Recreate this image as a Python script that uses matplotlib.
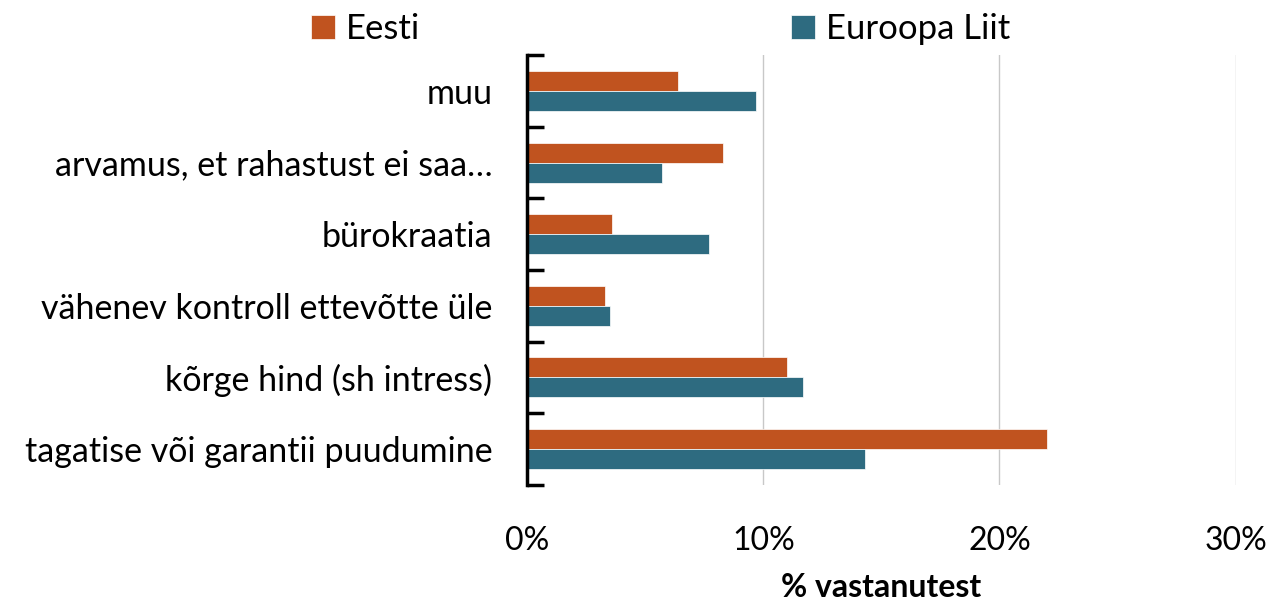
import matplotlib.pyplot as plt
import numpy as np
from matplotlib.ticker import PercentFormatter

categories = [
    "muu",
    "arvamus, et rahastust ei saa…",
    "bürokraatia",
    "vähenev kontroll ettevõtte üle",
    "kõrge hind (sh intress)",
    "tagatise või garantii puudumine",
]
eesti = [6.4, 8.3, 3.6, 3.3, 11.0, 22.0]
euroopa_liit = [9.7, 5.7, 7.7, 3.5, 11.7, 14.3]
series_names = ["Eesti", "Euroopa Liit"]

plt.rcParams["font.family"] = ["Lato", "DejaVu Sans"]

fig = plt.figure(figsize=(12.7, 6), dpi=100)
ax = fig.add_axes([0.415, 0.192, 0.558, 0.716])

y = np.arange(len(categories))
h = 0.28
ax.barh(y - h / 2, eesti, height=h, color="#C0531F", edgecolor="white",
        linewidth=0.5, label=series_names[0], zorder=3)
ax.barh(y + h / 2, euroopa_liit, height=h, color="#2E6B80", edgecolor="white",
        linewidth=0.5, label=series_names[1], zorder=3)

ax.set_ylim(len(categories) - 0.5, -0.5)
ax.set_xlim(0, 30)
ax.set_yticks(y)
ax.set_yticklabels(categories, fontsize=24.5)
ax.set_yticks(np.arange(-0.5, len(categories)), minor=True)
ax.tick_params(axis="y", which="major", length=0, pad=25)
ax.tick_params(axis="y", which="minor", length=12, width=2.5, direction="in")

ax.set_xticks([0, 10, 20, 30])
ax.xaxis.set_major_formatter(PercentFormatter(decimals=0))
ax.tick_params(axis="x", length=0, pad=30, labelsize=23)
ax.grid(axis="x", color="#c8c8c8", linewidth=1, zorder=0)

for s in ["top", "right", "bottom"]:
    ax.spines[s].set_visible(False)
ax.spines["left"].set_linewidth(2.5)
ax.spines["left"].set_zorder(4)

ax.set_xlabel("% vastanutest", fontsize=23, fontweight="bold", labelpad=12)

fig.legend(loc="upper center", bbox_to_anchor=(0.52, 1.03), ncol=2, frameon=False,
           fontsize=25, handlelength=0.7, handleheight=0.7, handletextpad=0.3,
           columnspacing=10.7)

fig.savefig("out.png")
